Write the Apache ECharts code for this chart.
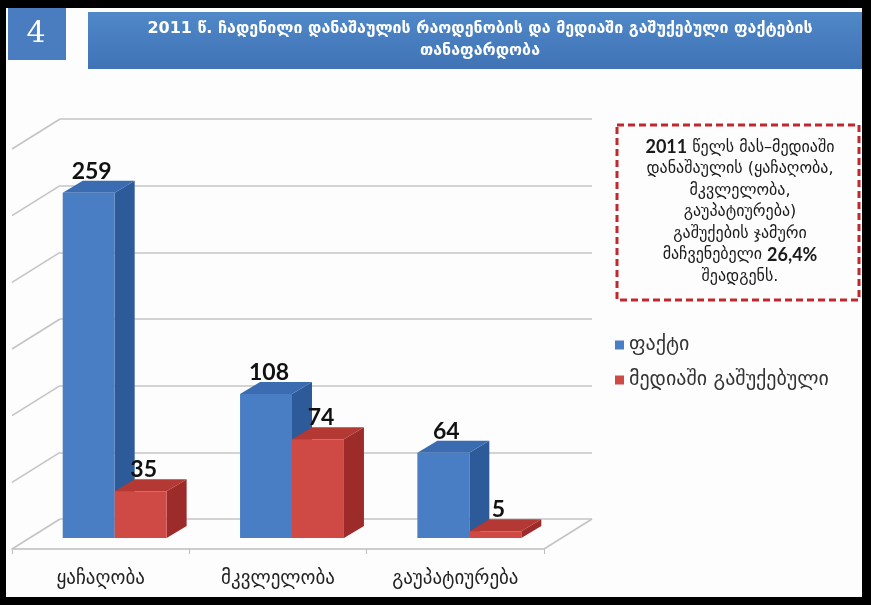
<!DOCTYPE html>
<html><head><meta charset="utf-8">
<script src="https://cdn.jsdelivr.net/npm/echarts@6/dist/echarts.min.js"></script>
<style>html,body{margin:0;padding:0;background:#000}#c{width:871px;height:605px}</style>
</head><body><div id="c"></div>
<script>
const categories = ['ყაჩაღობა', 'მკვლელობა', 'გაუპატიურება'];
const seriesNames = ['ფაქტი', 'მედიაში გაშუქებული'];
const factValues = [259, 108, 64];
const mediaValues = [35, 74, 5];
const yTicks = [0, 50, 100, 150, 200, 250, 300];
const titleLines = ['2011 წ. ჩადენილი დანაშაულის რაოდენობის და მედიაში გაშუქებული ფაქტების', 'თანაფარდობა'];
const noteLines = ['{b|2011} წელს მას–მედიაში', 'დანაშაულის (ყაჩაღობა,', 'მკვლელობა,', 'გაუპატიურება)', 'გაშუქების ჯამური', 'მაჩვენებელი {b|26,4%}', 'შეადგენს.'];

const GEO = '"DejaVu Sans", sans-serif';
const DEPTH = [20, -12];       // bar depth offset
const FLOOR = [-48, 30];       // back wall -> floor front offset

const colors = {
  fact: { front: '#4a7ec4', side: '#2d5a98', top: '#3b6cb2' },
  media: { front: '#cf4a45', side: '#9c2b29', top: '#b43935' }
};

function barRender(idx, c) {
  return function (params, api) {
    const i = api.value(0), v = api.value(1);
    const base = api.coord([i, 0]);
    const tp = api.coord([i, v]);
    const w = api.size([1, 0])[0] * 0.293;
    const x0 = base[0] + (idx === 0 ? -w : 0), x1 = x0 + w;
    const yb = base[1], yt = tp[1];
    const dx = DEPTH[0], dy = DEPTH[1];
    return { type: 'group', children: [
      { type: 'polygon', shape: { points: [[x1, yb], [x1, yt], [x1 + dx, yt + dy], [x1 + dx, yb + dy]] }, style: { fill: c.side } },
      { type: 'polygon', shape: { points: [[x0, yt], [x1, yt], [x1 + dx, yt + dy], [x0 + dx, yt + dy]] }, style: { fill: c.top } },
      { type: 'rect', shape: { x: x0, y: yt, width: w, height: yb - yt }, style: { fill: c.front } },
      { type: 'text', z2: 10, style: { text: String(v), x: x0 + w / 2 + 3, y: yt + dy + 2, align: 'center', verticalAlign: 'bottom', font: 'bold 23px Lato, "Open Sans", sans-serif', fill: '#111' } }
    ]};
  };
}

const chart = echarts.init(document.getElementById('c'), null, { renderer: 'canvas' });
const option = {
  backgroundColor: '#000',
  animation: false,
  graphic: [
    { type: 'rect', z: -10, shape: { x: 6, y: 8, width: 856, height: 589 }, style: { fill: '#fdfdfd' } },
    { type: 'rect', shape: { x: 8, y: 8, width: 58, height: 52 }, style: { fill: '#4a7cc0' } },
    { type: 'text', style: { text: '4', x: 36, y: 34, align: 'center', verticalAlign: 'middle', font: '30px "DejaVu Serif", serif', fill: '#fff' } },
    { type: 'rect', shape: { x: 88, y: 12, width: 774, height: 57 }, style: { fill: new echarts.graphic.LinearGradient(0, 0, 0, 1, [{ offset: 0, color: '#5088c8' }, { offset: 1, color: '#3f73b5' }]) } },
    { type: 'text', style: { text: titleLines.join('\n'), x: 480, y: 40, align: 'center', verticalAlign: 'middle', lineHeight: 22, font: 'bold 16px ' + GEO, fill: '#fff' } },
    { type: 'rect', shape: { x: 617, y: 125, width: 242, height: 175 }, style: { fill: 'none', stroke: '#c0282d', lineWidth: 3, lineDash: [7, 4] } },
    { type: 'text', style: { text: noteLines.join('\n'), x: 740, y: 212, align: 'center', verticalAlign: 'middle', lineHeight: 21.5, font: '16px ' + GEO, fill: '#1a1a1a',
      rich: { b: { font: 'bold 18px Lato, "Open Sans", sans-serif', fill: '#1a1a1a' } } } }
  ],
  legend: {
    data: seriesNames, orient: 'vertical', left: 610, top: 330, itemWidth: 9, itemHeight: 9, itemGap: 15, icon: 'rect',
    textStyle: { fontFamily: GEO, fontSize: 20, color: '#333' }
  },
  grid: [
    { left: 60, top: 119, width: 532, height: 400 },
    { left: 26, top: 138, width: 532, height: 400 },
    { left: 12, top: 149, width: 532, height: 400 }
  ],
  xAxis: [
    { type: 'category', gridIndex: 0, data: categories, show: false },
    { type: 'category', gridIndex: 1, data: categories, show: false },
    { type: 'category', gridIndex: 2, data: categories,
      axisLine: { lineStyle: { color: '#bdbdbd', width: 1.5 } },
      axisTick: { show: true, length: 5, lineStyle: { color: '#bdbdbd' } },
      axisLabel: { margin: 21, fontFamily: GEO, fontSize: 19, color: '#222' } }
  ],
  yAxis: [
    { type: 'value', gridIndex: 0, min: 0, max: 300, interval: 50, axisLine: { show: false }, axisTick: { show: false }, axisLabel: { show: false },
      splitLine: { lineStyle: { color: '#c4c4c4', width: 1.5 } } },
    { type: 'value', gridIndex: 1, min: 0, max: 300, interval: 50, show: false, splitLine: { show: false } },
    { type: 'value', gridIndex: 2, min: 0, max: 300, interval: 50, show: false, splitLine: { show: false } }
  ],
  series: [
    { type: 'custom', name: 'walls', xAxisIndex: 0, yAxisIndex: 0, silent: true, z: 1,
      data: yTicks.map(t => [0, t]),
      renderItem: function (params, api) {
        const v = api.value(1);
        const band = api.size([1, 0])[0];
        const p = api.coord([0, v]);
        const xl = p[0] - band / 2;
        const children = [
          { type: 'line', shape: { x1: xl, y1: p[1], x2: xl + FLOOR[0], y2: p[1] + FLOOR[1] }, style: { stroke: '#c4c4c4', lineWidth: 1.5 } }
        ];
        if (v === 0) {
          const pr = api.coord([categories.length - 1, 0]);
          const xr = pr[0] + band / 2;
          children.push({ type: 'line', shape: { x1: xr, y1: pr[1], x2: xr + FLOOR[0], y2: pr[1] + FLOOR[1] }, style: { stroke: '#c4c4c4', lineWidth: 1.5 } });
        }
        return { type: 'group', children: children };
      } },
    { type: 'custom', name: seriesNames[0], xAxisIndex: 1, yAxisIndex: 1, z: 3, itemStyle: { color: colors.fact.front },
      data: factValues.map((v, i) => [i, v]), renderItem: barRender(0, colors.fact) },
    { type: 'custom', name: seriesNames[1], xAxisIndex: 1, yAxisIndex: 1, z: 4, itemStyle: { color: colors.media.front },
      data: mediaValues.map((v, i) => [i, v]), renderItem: barRender(1, colors.media) }
  ]
};
chart.setOption(option);
</script></body></html>
